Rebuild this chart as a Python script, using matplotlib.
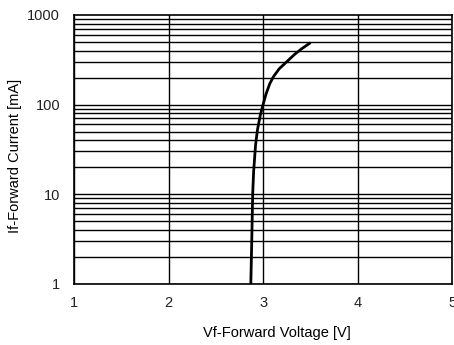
import numpy as np
import matplotlib.pyplot as plt

plt.rcParams['font.family'] = ['Liberation Sans', 'DejaVu Sans']

# forward voltage [V] vs forward current [mA]
vf = [2.87, 2.88, 2.89, 2.90, 2.92, 2.94, 2.97, 3.00, 3.03, 3.07, 3.11,
      3.17, 3.25, 3.33, 3.41, 3.49]
i_f = [1, 3, 10, 18, 35, 52, 76, 100, 130, 170, 205,
       250, 300, 360, 420, 480]

x_ticks = [1, 2, 3, 4, 5]
y_ticks = [1, 10, 100, 1000]
y_labels = ['1', '10', '100', '1000']

fig = plt.figure(figsize=(4.54, 3.45), dpi=100)
ax = fig.add_axes([0.163, 0.177, 0.833, 0.780])

ax.set_yscale('log')
ax.set_xlim(1, 5)
ax.set_ylim(1, 1000)

# grid: integer volts, every 1..9 in each decade
for x in x_ticks:
    ax.axvline(x, color='black', lw=1.0, zorder=1)
for dec in [1, 10, 100]:
    for m in range(1, 10):
        ax.axhline(dec * m, color='black', lw=1.0, zorder=1)

ax.plot(vf, i_f, color='black', lw=2.0, zorder=3, solid_joinstyle='round')

ax.set_xticks(x_ticks)
ax.set_xticklabels([str(x) for x in x_ticks])
ax.set_yticks(y_ticks)
ax.set_yticklabels(y_labels)
ax.minorticks_off()
ax.tick_params(length=0, labelsize=10.5, colors='#222222')
ax.tick_params(axis='y', pad=10)
ax.tick_params(axis='x', pad=9)
for s in ax.spines.values():
    s.set_linewidth(1.2)

ax.set_xlabel('Vf-Forward Voltage [V]', fontsize=10.5)
ax.set_ylabel('If-Forward Current [mA]', fontsize=10.5)
ax.xaxis.set_label_coords(0.537, -0.158)
ax.yaxis.set_label_coords(-0.138, 0.476)

fig.savefig('out.png', dpi=100)
